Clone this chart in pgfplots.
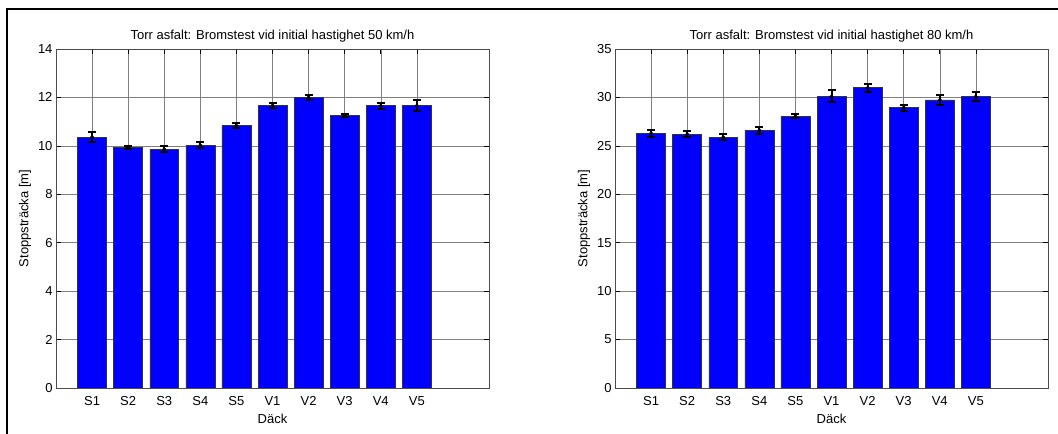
\documentclass[border=0pt]{standalone}
\usepackage{fontspec}
\setmainfont{Liberation Sans}
\usepackage{pgfplots}
\usepackage{pgfplotstable}
\pgfplotsset{compat=1.18}
\definecolor{mblue}{RGB}{0,0,255}

\pgfplotstableread{
x y e
1 10.36 0.22
2 9.93 0.05
3 9.86 0.13
4 10.02 0.12
5 10.84 0.12
6 11.67 0.12
7 12.00 0.12
8 11.25 0.06
9 11.66 0.12
10 11.66 0.23
}\dataA

\pgfplotstableread{
x y e
1 26.30 0.38
2 26.20 0.30
3 25.90 0.30
4 26.60 0.38
5 28.05 0.20
6 30.10 0.62
7 31.00 0.41
8 28.95 0.31
9 29.75 0.52
10 30.10 0.48
}\dataB

\pgfplotsset{
  mystyle/.style={
    scale only axis, width=433bp, height=339bp,
    xmin=0, xmax=12, ymin=0,
    xtick={1,...,10},
    xticklabels={S1,S2,S3,S4,S5,V1,V2,V3,V4,V5},
    grid=major, grid style={black!50, line width=0.5bp},
    tick align=inside, major tick length=5bp,
    tick style={black, line width=0.6bp},
    axis line style={black!70, line width=0.6bp},
    /pgf/number format/assume math mode=true,
    tick label style={font=\fontsize{13bp}{15bp}\selectfont},
    label style={font=\fontsize{13bp}{15bp}\selectfont},
    title style={font=\fontsize{13bp}{15bp}\selectfont, yshift=-3bp},
    xlabel={Däck}, ylabel={Stoppsträcka [m]},
    xticklabel style={yshift=-5bp},
    xlabel style={yshift=-2bp},
  },
  barstyle/.style={ybar, bar width=0.8, fill=mblue, draw=black!80, line width=0.5bp},
  errstyle/.style={black, only marks, mark=*, mark size=1.8bp,
    error bars/.cd, y dir=both, y explicit,
    error bar style={line width=2bp, black},
    error mark options={rotate=90, mark size=4bp, line width=2bp, black}},
}

\begin{document}
\begin{tikzpicture}
\useasboundingbox (0,0) rectangle (1058bp,434bp);
\draw[line width=2bp, black] (6.5bp,0) -- (6.5bp,424.5bp) -- (1058bp,424.5bp);

\begin{axis}[mystyle, at={(56bp,46bp)}, anchor=south west,
  ymax=14, ytick={0,2,...,14},
  title={Torr asfalt: Bromstest vid initial hastighet 50 km/h}]
\addplot[barstyle] table[x=x,y=y] {\dataA};
\addplot[errstyle] table[x=x,y=y,y error=e] {\dataA};
\end{axis}

\begin{axis}[mystyle, at={(615bp,46bp)}, anchor=south west,
  ymax=35, ytick={0,5,...,35},
  title={Torr asfalt: Bromstest vid initial hastighet 80 km/h}]
\addplot[barstyle] table[x=x,y=y] {\dataB};
\addplot[errstyle] table[x=x,y=y,y error=e] {\dataB};
\end{axis}
\end{tikzpicture}
\end{document}
